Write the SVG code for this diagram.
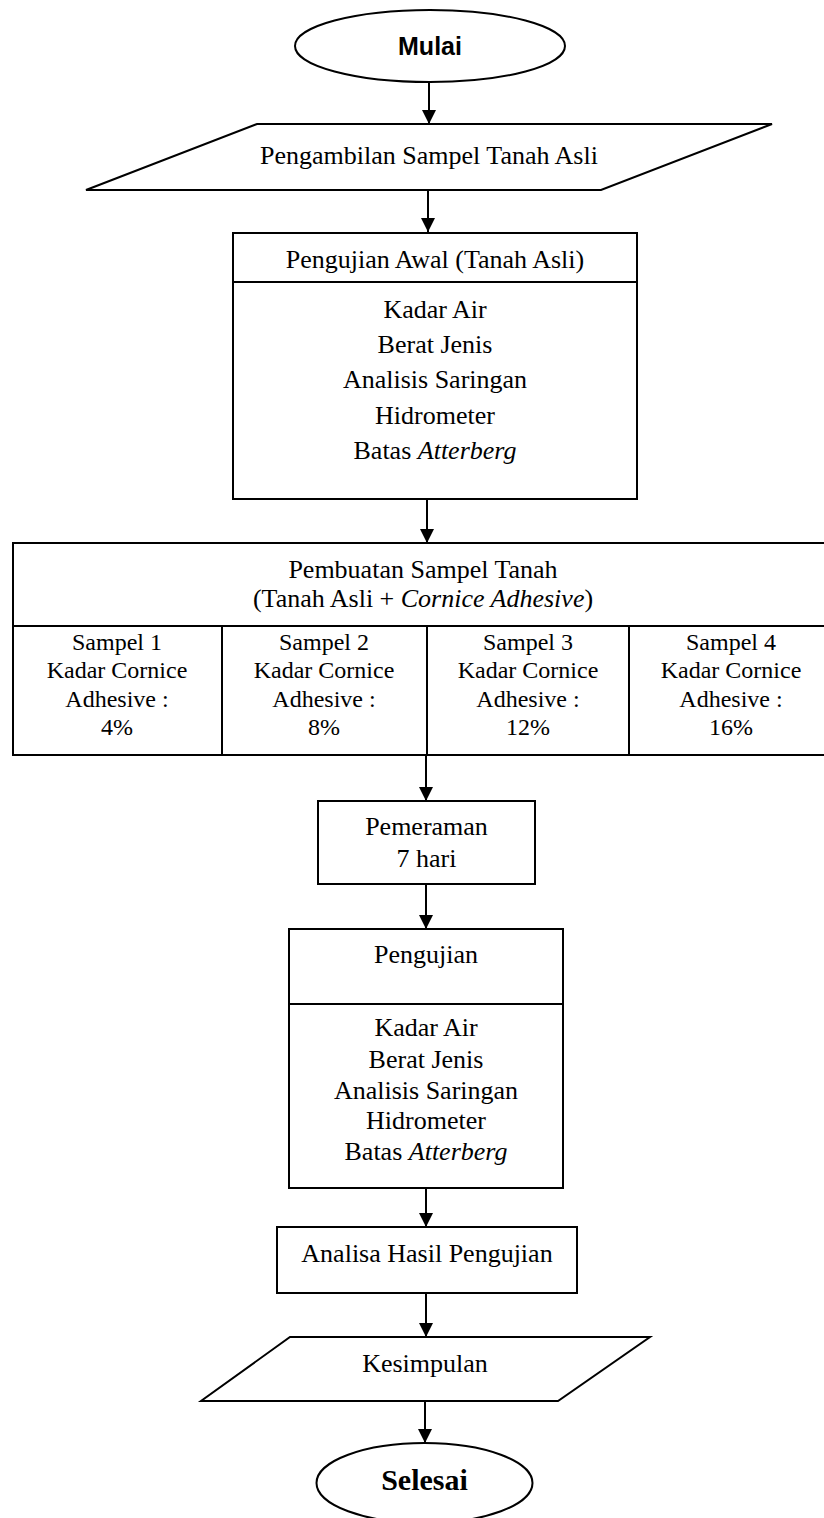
<svg xmlns="http://www.w3.org/2000/svg" width="824" height="1518" viewBox="0 0 824 1518">
<style>
.s{fill:#fff;stroke:#000;stroke-width:2}
.ln{fill:none;stroke:#000;stroke-width:2}
.t{font-family:"Liberation Serif","Times New Roman",serif;font-size:26px;fill:#000;text-anchor:middle}
.c{font-family:"Liberation Serif","Times New Roman",serif;font-size:24px;fill:#000;text-anchor:middle}
.b{font-weight:bold}
.i{font-style:italic}
</style>
<defs>
<marker id="ah" markerWidth="14" markerHeight="14" refX="14" refY="7" orient="auto" markerUnits="userSpaceOnUse">
<path d="M0,0 L14,7 L0,14 Z" fill="#000"/>
</marker>
</defs>
<rect width="824" height="1518" fill="#fff"/>
<g id="connectors">
<line class="ln" x1="429" y1="82" x2="429" y2="124" marker-end="url(#ah)"/>
<line class="ln" x1="428" y1="190" x2="428" y2="232" marker-end="url(#ah)"/>
<line class="ln" x1="427" y1="499" x2="427" y2="543" marker-end="url(#ah)"/>
<line class="ln" x1="426" y1="755" x2="426" y2="801" marker-end="url(#ah)"/>
<line class="ln" x1="426" y1="884" x2="426" y2="929" marker-end="url(#ah)"/>
<line class="ln" x1="426" y1="1188" x2="426" y2="1227" marker-end="url(#ah)"/>
<line class="ln" x1="426" y1="1293" x2="426" y2="1337" marker-end="url(#ah)"/>
<line class="ln" x1="425" y1="1401" x2="425" y2="1443" marker-end="url(#ah)"/>
</g>
<g id="mulai">
<ellipse class="s" cx="430" cy="46" rx="135" ry="36"/>
<text x="430" y="55" text-anchor="middle" font-family="'Liberation Sans',Arial,sans-serif" font-size="25" font-weight="bold">Mulai</text>
</g>
<g id="pengambilan">
<polygon class="s" points="257,124 772,124 601,190 86,190"/>
<text class="t" x="429" y="164">Pengambilan Sampel Tanah Asli</text>
</g>
<g id="pengujian-awal">
<rect class="s" x="233" y="233" width="404" height="266"/>
<line class="ln" x1="233" y1="282" x2="637" y2="282"/>
<text class="t" x="435" y="268">Pengujian Awal (Tanah Asli)</text>
<text class="t" x="435" y="318">Kadar Air</text>
<text class="t" x="435" y="353">Berat Jenis</text>
<text class="t" x="435" y="388">Analisis Saringan</text>
<text class="t" x="435" y="424">Hidrometer</text>
<text class="t" x="435" y="459">Batas <tspan class="i">Atterberg</tspan></text>
</g>
<g id="pembuatan">
<rect class="s" x="13" y="543" width="821" height="212"/>
<line class="ln" x1="13" y1="626" x2="834" y2="626"/>
<line class="ln" x1="222" y1="626" x2="222" y2="755"/>
<line class="ln" x1="427" y1="626" x2="427" y2="755"/>
<line class="ln" x1="629" y1="626" x2="629" y2="755"/>
<text class="t" x="423" y="578">Pembuatan Sampel Tanah</text>
<text class="t" x="423" y="607">(Tanah Asli + <tspan class="i">Cornice Adhesive</tspan>)</text>
</g>
<g id="sampel1">
<text class="c" x="117" y="650">Sampel 1</text>
<text class="c" x="117" y="678">Kadar Cornice</text>
<text class="c" x="117" y="707">Adhesive :</text>
<text class="c" x="117" y="735">4%</text>
</g>
<g id="sampel2">
<text class="c" x="324" y="650">Sampel 2</text>
<text class="c" x="324" y="678">Kadar Cornice</text>
<text class="c" x="324" y="707">Adhesive :</text>
<text class="c" x="324" y="735">8%</text>
</g>
<g id="sampel3">
<text class="c" x="528" y="650">Sampel 3</text>
<text class="c" x="528" y="678">Kadar Cornice</text>
<text class="c" x="528" y="707">Adhesive :</text>
<text class="c" x="528" y="735">12%</text>
</g>
<g id="sampel4">
<text class="c" x="731" y="650">Sampel 4</text>
<text class="c" x="731" y="678">Kadar Cornice</text>
<text class="c" x="731" y="707">Adhesive :</text>
<text class="c" x="731" y="735">16%</text>
</g>
<g id="pemeraman">
<rect class="s" x="318" y="801" width="217" height="83"/>
<text class="t" x="426.5" y="835">Pemeraman</text>
<text class="t" x="426.5" y="867">7 hari</text>
</g>
<g id="pengujian">
<rect class="s" x="289" y="929" width="274" height="259"/>
<line class="ln" x1="289" y1="1004" x2="563" y2="1004"/>
<text class="t" x="426" y="963">Pengujian</text>
<text class="t" x="426" y="1036">Kadar Air</text>
<text class="t" x="426" y="1068">Berat Jenis</text>
<text class="t" x="426" y="1099">Analisis Saringan</text>
<text class="t" x="426" y="1129">Hidrometer</text>
<text class="t" x="426" y="1160">Batas <tspan class="i">Atterberg</tspan></text>
</g>
<g id="analisa">
<rect class="s" x="277" y="1227" width="300" height="66"/>
<text class="t" x="427" y="1262">Analisa Hasil Pengujian</text>
</g>
<g id="kesimpulan">
<polygon class="s" points="290,1337 650,1337 558,1401 201,1401"/>
<text class="t" x="425" y="1372">Kesimpulan</text>
</g>
<g id="selesai">
<ellipse class="s" cx="424.5" cy="1483" rx="108" ry="40"/>
<text class="t b" x="424.5" y="1490" font-size="30" style="font-size:30px">Selesai</text>
</g>
</svg>
